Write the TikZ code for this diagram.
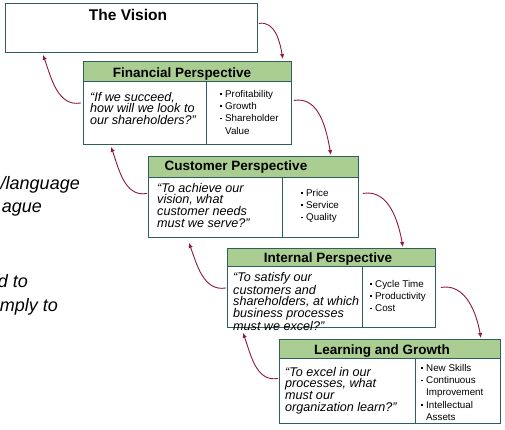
\documentclass[tikz,border=0pt]{standalone}
\usepackage{fontspec}
\setmainfont{Liberation Sans}
\usepackage{tikz}
\usetikzlibrary{arrows.meta}
\definecolor{cardline}{HTML}{2E5E5E}
\definecolor{headgreen}{HTML}{AACD91}
\definecolor{loopred}{HTML}{8B1A3C}
\newcommand{\bul}{\makebox[5pt][l]{\raisebox{2.4pt}{\rule{1.7pt}{1.7pt}}}}
\newcommand{\ind}{\hspace*{5pt}}

\begin{document}
\begin{tikzpicture}[x=1pt,y=1pt,>=Latex,
  card/.style={draw=cardline,fill=white,line width=0.9pt,inner sep=0pt,anchor=north west},
  cardhead/.style={card,fill=headgreen},
  divider/.style={draw=cardline,line width=0.9pt},
  headtext/.style={anchor=base,inner sep=0pt,font=\fontsize{13.5}{15}\selectfont\bfseries},
  quote/.style={anchor=north west,inner sep=0pt,align=left,font=\fontsize{12.6}{11.6}\selectfont\itshape},
  points/.style={anchor=north west,inner sep=0pt,align=left,font=\fontsize{9.8}{12.3}\selectfont},
  slide/.style={anchor=base east,inner sep=0pt,font=\fontsize{18}{21}\selectfont\itshape},
  loop/.style={->,draw=loopred,line width=0.9pt,arrows={-Latex[length=5pt,width=4.5pt]}}]
  \useasboundingbox (0,0) rectangle (505,430);
  \clip (0,0) rectangle (505,430);
  % cut-off slide text on the left
  \node[slide] (s1) at (80,240) {/language};
  \node[slide] (s2) at (42,217) {ague};
  \node[slide] (s3) at (28,142) {d to};
  \node[slide] (s4) at (58,118) {mply to};
  % the vision
  \node[card,minimum width=252pt,minimum height=49pt] (vis) at (5,427) {};
  \node[headtext,font=\fontsize{15.5}{17}\selectfont\bfseries] (visT) at (128,409) {The Vision};
  % financial
  \node[card,minimum width=208pt,minimum height=83pt] (fin) at (83,369) {};
  \node[cardhead,minimum width=208pt,minimum height=20pt] (finH) at (fin.north west) {};
  \draw[divider] ([xshift=123pt]finH.south west) -- ([xshift=123pt]fin.south west);
  \node[headtext] (finT) at (182,352) {Financial Perspective};
  \node[quote] (finQ) at (90,338) {“If we succeed,\\how will we look to\\our shareholders?”};
  \node[points] (finL) at (220,340) {\bul Profitability\\\bul Growth\\\bul Shareholder\\\ind Value};
  % customer
  \node[card,minimum width=210pt,minimum height=81pt] (cus) at (148,274) {};
  \node[cardhead,minimum width=210pt,minimum height=21pt] (cusH) at (cus.north west) {};
  \draw[divider] ([xshift=134pt]cusH.south west) -- ([xshift=134pt]cus.south west);
  \node[headtext] (cusT) at (236,259) {Customer Perspective};
  \node[quote] (cusQ) at (157,247) {“To achieve our\\vision, what\\customer needs\\must we serve?”};
  \node[points] (cusL) at (301,241) {\bul Price\\\bul Service\\\bul Quality};
  % internal
  \node[card,minimum width=208pt,minimum height=79pt] (int) at (227,182) {};
  \node[cardhead,minimum width=208pt,minimum height=18pt] (intH) at (int.north west) {};
  \draw[divider] ([xshift=135pt]intH.south west) -- ([xshift=135pt]int.south west);
  \node[headtext] (intT) at (328,167) {Internal Perspective};
  \node[quote] (intQ) at (233,158) {“To satisfy our\\customers and\\shareholders, at which\\business processes\\must we excel?”};
  \node[points] (intL) at (370,150) {\bul Cycle Time\\\bul Productivity\\\bul Cost};
  % learning
  \node[card,minimum width=221pt,minimum height=84pt] (lrn) at (279,91) {};
  \node[cardhead,minimum width=221pt,minimum height=19pt] (lrnH) at (lrn.north west) {};
  \draw[divider] ([xshift=136pt]lrnH.south west) -- ([xshift=136pt]lrn.south west);
  \node[headtext] (lrnT) at (382,75) {Learning and Growth};
  \node[quote] (lrnQ) at (285,63) {“To excel in our\\processes, what\\must our\\organization learn?”};
  \node[points] (lrnL) at (421,66) {\bul New Skills\\\bul Continuous\\\ind Improvement\\\bul Intellectual\\\ind Assets};
  % cascading arrows down the right
  \draw[loop] ([xshift=1pt,yshift=4.5pt]vis.east) to[out=10,in=100] ([xshift=-9pt,yshift=2pt]fin.north east);
  \draw[loop] ([xshift=2pt,yshift=2.5pt]fin.east) to[out=10,in=100] ([xshift=-28pt,yshift=1pt]cus.north east);
  \draw[loop] ([xshift=4pt,yshift=3.5pt]cus.east) to[out=10,in=100] ([xshift=-33pt,yshift=1pt]int.north east);
  \draw[loop] ([xshift=5pt,yshift=0.5pt]int.east) to[out=10,in=100] ([xshift=-20pt,yshift=1pt]lrn.north east);
  % feedback arrows up the left
  \draw[loop] ([xshift=-2pt]fin.west) to[out=190,in=-70] ([xshift=38pt,yshift=-2pt]vis.south west);
  \draw[loop] ([xshift=-1pt,yshift=3.5pt]cus.west) to[out=190,in=-70] ([xshift=28pt,yshift=-2pt]fin.south west);
  \draw[loop] ([xshift=-1pt]int.west) to[out=190,in=-70] ([xshift=41pt,yshift=-5pt]cus.south west);
  \draw[loop] ([xshift=-1pt,yshift=3pt]lrn.west) to[out=190,in=-70] ([xshift=16pt,yshift=-5pt]int.south west);
\end{tikzpicture}
\end{document}
